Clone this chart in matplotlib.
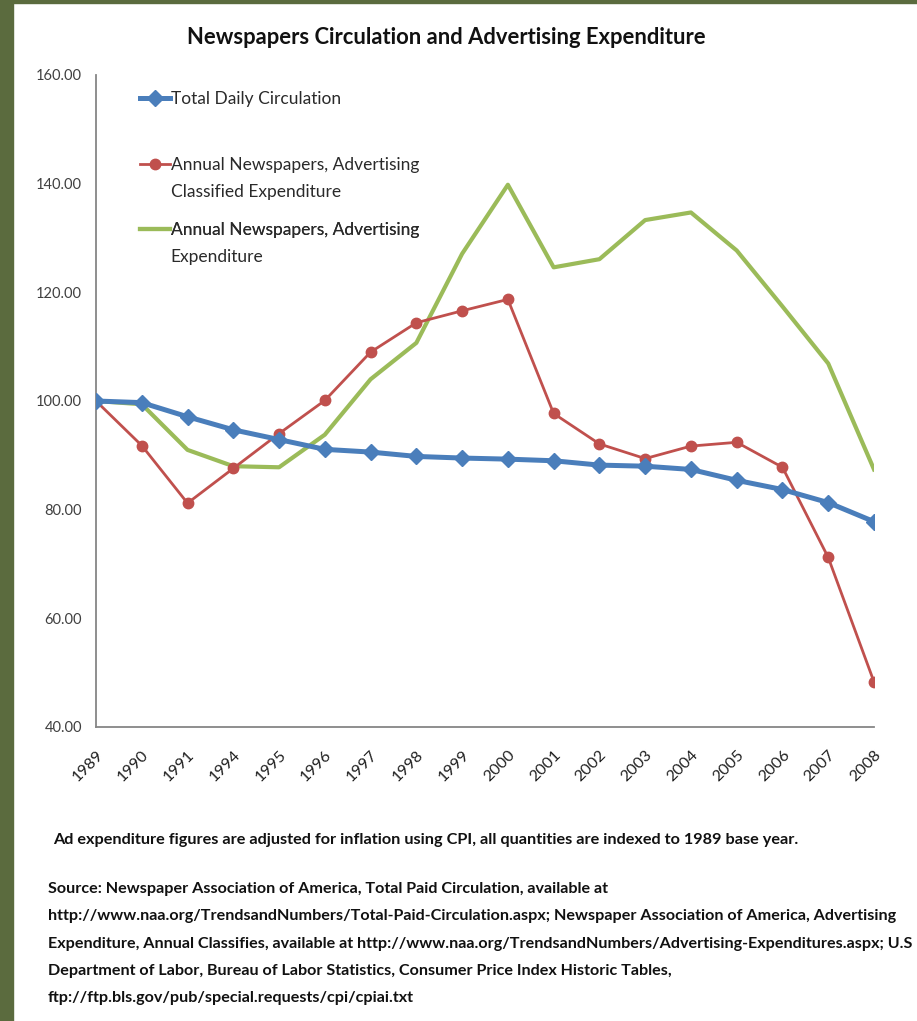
import matplotlib
matplotlib.use('Agg')
import matplotlib.pyplot as plt
from matplotlib.patches import Rectangle
from matplotlib import font_manager

# narrowest of the installed sans families
names = {f.name for f in font_manager.fontManager.ttflist}
FONT = next((n for n in ['Liberation Sans Narrow', 'Lato', 'Roboto', 'DejaVu Sans'] if n in names),
            'DejaVu Sans')

years = ['1989', '1990', '1991', '1994', '1995', '1996', '1997', '1998', '1999',
         '2000', '2001', '2002', '2003', '2004', '2005', '2006', '2007', '2008']

circulation = [100.0, 99.7, 97.1, 94.7, 92.9, 91.1, 90.6, 89.8, 89.5,
               89.3, 89.0, 88.2, 88.0, 87.4, 85.4, 83.7, 81.3, 77.8]

classified = [100.0, 91.8, 81.2, 87.6, 94.0, 100.1, 109.0, 114.4, 116.6,
              118.7, 97.7, 92.1, 89.4, 91.7, 92.4, 87.8, 71.2, 48.3]

advertising = [100.0, 99.4, 91.0, 88.0, 87.8, 93.8, 104.0, 110.7, 127.1,
               139.8, 124.6, 126.1, 133.3, 134.7, 127.7, 117.4, 106.9, 87.4]

labels = ['Total Daily Circulation',
          'Annual Newspapers, Advertising\nClassified Expenditure',
          'Annual Newspapers, Advertising\nExpenditure']

yticks = [40, 60, 80, 100, 120, 140, 160]

W, H = 917, 1021
fig = plt.figure(figsize=(W / 100, H / 100), dpi=100)
renderer = fig.canvas.get_renderer()


def fit_text(t, width_px):
    # shrink/grow a text so it spans the given width in pixels
    w = t.get_window_extent(renderer).width
    t.set_fontsize(t.get_fontsize() * width_px / w)


# dark green frame on the left and top
frame_col = '#5b6b3e'
fig.patches.append(Rectangle((0, 0), 13 / W, 1, transform=fig.transFigure,
                             color=frame_col, zorder=-1))
fig.patches.append(Rectangle((0, 1 - 3 / H), 1, 3 / H, transform=fig.transFigure,
                             color=frame_col, zorder=-1))

ax_bottom, ax_top = 727, 75
ax = fig.add_axes([96 / W, 1 - ax_bottom / H, (874 - 96) / W, (ax_bottom - ax_top) / H])

x = list(range(len(years)))
lines = [
    ax.plot(x, circulation, color='#4a7ebb', lw=3.6, marker='D', ms=8.5, zorder=4)[0],
    ax.plot(x, classified, color='#c0504d', lw=2.0, marker='o', ms=7.5, zorder=3)[0],
    ax.plot(x, advertising, color='#9bbb59', lw=3.0, zorder=2)[0],
]

ax.set_xlim(0, len(years) - 1)
ax.set_ylim(40, 160)
ax.set_yticks(yticks)
ax.set_yticklabels([f'{v:.2f}' for v in yticks], family=FONT, fontsize=10.5, color='#404040')
ax.set_xticks(x)
ax.set_xticklabels(years, rotation=45, ha='right', rotation_mode='anchor',
                   family=FONT, fontsize=11.5, color='#202020')
ax.tick_params(axis='both', length=0)
ax.tick_params(axis='y', pad=10)
ax.tick_params(axis='x', pad=15)

for side in ('top', 'right'):
    ax.spines[side].set_visible(False)
for side in ('left', 'bottom'):
    ax.spines[side].set_color('#868686')
    ax.spines[side].set_linewidth(1.3)

# legend: one block per series, first line next to the key,
# wrapped remainder on the line below
entry_y = [99, 165, 230]
for line, lab, py in zip(lines, labels, entry_y):
    first, *rest = lab.split('\n')
    yfrac = (ax_bottom - py) / (ax_bottom - ax_top)
    leg = ax.legend([line], [first], loc='center left', bbox_to_anchor=(0.056, yfrac),
                    frameon=False, prop={'family': FONT, 'size': 12.5}, handlelength=1.75,
                    handletextpad=0.05, borderpad=0, borderaxespad=0)
    ax.add_artist(leg)
    txt = leg.get_texts()[0]
    txt.set_color('#2a2a2a')
    if rest:
        fig.canvas.draw()
        x0 = txt.get_window_extent(renderer).x0
        fig.text(x0 / W, 1 - (py + 27) / H, rest[0], ha='left', va='center',
                 family=FONT, fontsize=12.5, color='#2a2a2a')

title = fig.text(446 / W, 1 - 37 / H, 'Newspapers Circulation and Advertising Expenditure',
                 ha='center', va='center', family=FONT, fontsize=15, fontweight='bold',
                 color='#111111')
fit_text(title, 520)

note = fig.text(53 / W, 1 - 840 / H,
                'Ad expenditure figures are adjusted for inflation using CPI, all quantities are indexed to 1989 base year.',
                ha='left', va='center', family=FONT, fontsize=11, fontweight='bold', color='#111111')
fit_text(note, 744)

source = ['Source: Newspaper Association of America, Total Paid Circulation, available at',
          'http://www.naa.org/TrendsandNumbers/Total-Paid-Circulation.aspx; Newspaper Association of America, Advertising',
          'Expenditure, Annual Classifies, available at http://www.naa.org/TrendsandNumbers/Advertising-Expenditures.aspx; U.S',
          'Department of Labor, Bureau of Labor Statistics, Consumer Price Index Historic Tables,',
          'ftp://ftp.bls.gov/pub/special.requests/cpi/cpiai.txt']
src_texts = []
for i, line in enumerate(source):
    src_texts.append(fig.text(48 / W, 1 - (889 + 27.3 * i) / H, line, ha='left', va='center',
                              family=FONT, fontsize=11, fontweight='bold', color='#111111'))
# size the block so the widest line reaches the right edge
widest = max(t.get_window_extent(renderer).width for t in src_texts)
scale = 866 / widest
for t in src_texts:
    t.set_fontsize(t.get_fontsize() * scale)

fig.savefig('out.png', dpi=100)
print('saved out.png')
